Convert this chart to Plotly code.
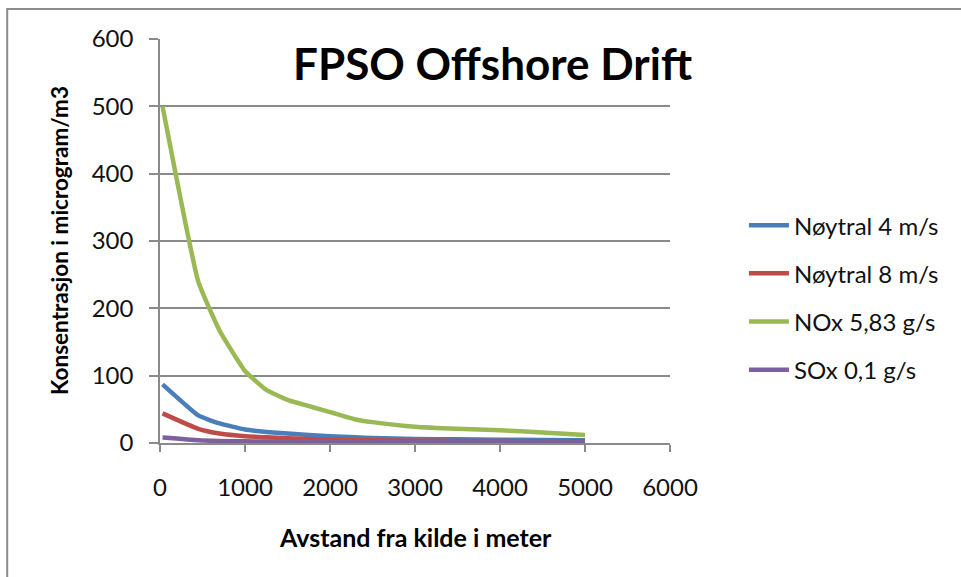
import plotly.graph_objects as go

# Distance from source (m)
distance_m = [30, 450, 700, 1000, 1250, 1500, 2000, 2300, 2500, 3000, 3500, 4000, 4500, 5000]

# Concentration (microgram/m3) per scenario
noytral_4 = [87, 41, 29, 20, 16.5, 14, 10, 8.5, 7.5, 6, 5.5, 5, 4.5, 4]
noytral_8 = [44, 21, 14, 10, 8.5, 7, 5, 4.5, 4, 3.5, 3, 3, 2.5, 2.5]
nox_583 = [500, 240, 167, 107, 79, 64, 46, 35, 31, 24, 21, 19, 15.5, 12]
sox_01 = [8, 4, 3, 2.5, 2.2, 2, 1.8, 1.7, 1.6, 1.5, 1.4, 1.3, 1.3, 1.2]

series_names = ["Nøytral 4 m/s", "Nøytral 8 m/s", "NOx 5,83 g/s", "SOx 0,1 g/s"]
series_values = [noytral_4, noytral_8, nox_583, sox_01]
series_colors = ["#4A7EBB", "#BE4B48", "#98B954", "#7D60A0"]

x_ticks = [0, 1000, 2000, 3000, 4000, 5000, 6000]
y_ticks = [0, 100, 200, 300, 400, 500, 600]

FONT = "Lato"
GRID = "#8a8a8a"

fig = go.Figure()
for i, (name, vals, col) in enumerate(zip(series_names, series_values, series_colors)):
    fig.add_trace(go.Scatter(
        x=distance_m, y=vals, name=name, mode="lines",
        line=dict(color=col, width=4.5, shape="spline", smoothing=0.4),
        legendgroup=f"g{i}",
    ))

fig.update_layout(
    width=961, height=577,
    margin=dict(l=160, r=291, t=39, b=134),
    paper_bgcolor="white", plot_bgcolor="white",
    font=dict(family=FONT, color="#111111"),
    showlegend=True,
    legend=dict(
        x=1.145, xanchor="left", y=0.36, yanchor="middle",
        font=dict(family=FONT, size=24, color="#111111"),
        tracegroupgap=14, itemwidth=40,
        bgcolor="rgba(0,0,0,0)",
    ),
    xaxis=dict(
        range=[0, 6000], tickvals=x_ticks, showgrid=False, zeroline=False,
        showline=True, linecolor=GRID, linewidth=1.5,
        ticks="outside", ticklen=7, tickcolor=GRID, tickwidth=1.5,
        ticklabelstandoff=15,
        tickfont=dict(family=FONT, size=24, color="#111111"),
    ),
    yaxis=dict(
        range=[0, 600], tickvals=y_ticks, showgrid=True, gridcolor=GRID,
        gridwidth=1.5, zeroline=False,
        showline=True, linecolor=GRID, linewidth=1.5,
        ticks="outside", ticklen=9, tickcolor=GRID, tickwidth=1.5,
        ticklabelstandoff=11,
        tickfont=dict(family=FONT, size=24, color="#111111"),
    ),
    annotations=[
        dict(text="<b>FPSO Offshore Drift</b>", xref="paper", yref="paper",
             x=0.651, y=0.94, xanchor="center", yanchor="middle", showarrow=False,
             font=dict(family=FONT, size=44, color="#000000")),
        dict(text="<b>Avstand fra kilde i meter</b>", xref="paper", yref="paper",
             x=0.5, y=0, yshift=-94, xanchor="center", yanchor="middle", showarrow=False,
             font=dict(family=FONT, size=25, color="#000000")),
        dict(text="<b>Konsentrasjon i microgram/m3</b>", xref="paper", yref="paper",
             x=0, xshift=-101, y=0.5, xanchor="center", yanchor="middle", showarrow=False,
             textangle=-90, font=dict(family=FONT, size=22.5, color="#000000")),
    ],
    shapes=[
        dict(type="rect", xref="paper", yref="paper",
             x0=-0.2996, x1=2.0, y0=-1.0, y1=1.0743,
             line=dict(color="#8c8c8c", width=2), fillcolor="rgba(0,0,0,0)", layer="below"),
    ],
)

fig.write_html("out.html")
